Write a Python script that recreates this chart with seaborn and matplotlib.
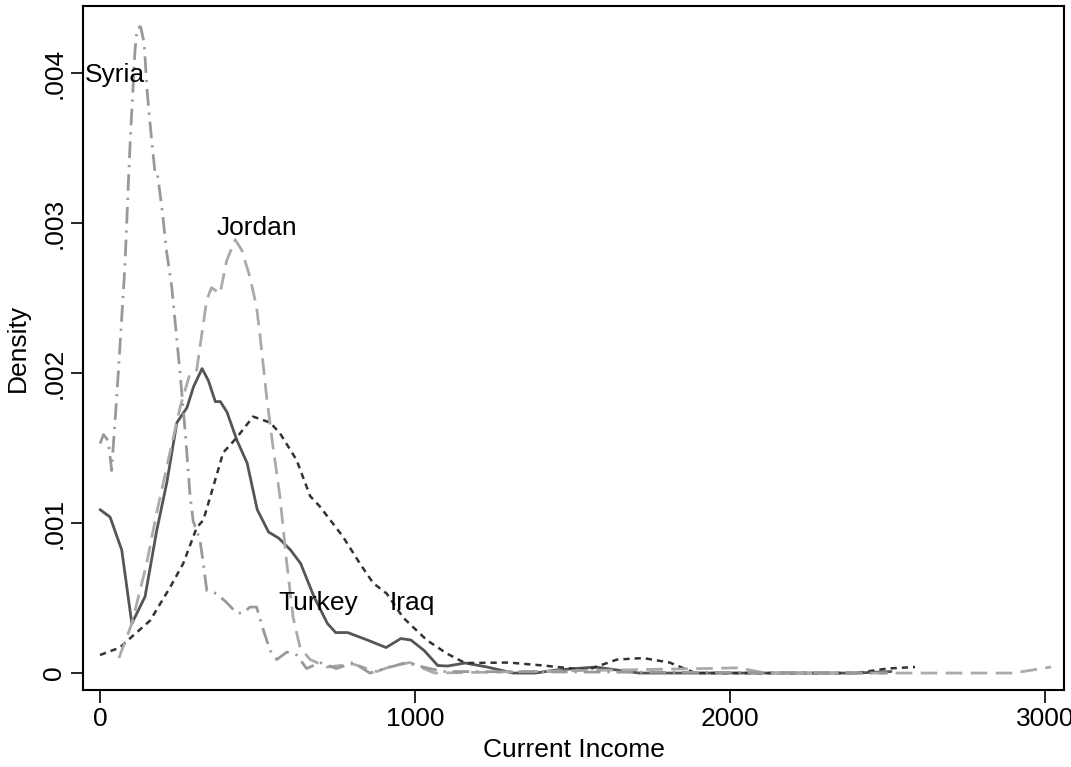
import numpy as np
import pandas as pd
import matplotlib
matplotlib.use('Agg')
import matplotlib.pyplot as plt
import seaborn as sns

# Kernel density curves (x = income, y = density)
turkey_x = [0, 32, 69, 101, 143, 180, 212, 244, 276, 297, 324, 344, 366, 382, 403,
            435, 467, 499, 535, 567, 605, 637, 679, 722, 748, 786, 849, 908, 955,
            987, 1029, 1072, 1104, 1159, 1229, 1311, 1381, 1449, 1573, 1711, 2400, 2511]
turkey_y = [1.09, 1.04, 0.82, 0.33, 0.51, 0.95, 1.27, 1.67, 1.77, 1.91, 2.03, 1.95,
            1.81, 1.81, 1.74, 1.55, 1.40, 1.09, 0.94, 0.90, 0.82, 0.73, 0.51, 0.33,
            0.27, 0.27, 0.22, 0.17, 0.23, 0.22, 0.15, 0.05, 0.047, 0.067, 0.04,
            0.0, 0.0, 0.02, 0.04, 0.0, 0.0, 0.01]

iraq_x = [0, 63, 105, 159, 222, 264, 307, 328, 359, 391, 434, 486, 540, 571, 624,
          667, 698, 771, 825, 867, 910, 962, 1037, 1101, 1159, 1297, 1408, 1546,
          1641, 1724, 1808, 1890, 2400, 2499, 2587]
iraq_y = [0.12, 0.17, 0.25, 0.35, 0.57, 0.73, 0.97, 1.02, 1.24, 1.47, 1.57, 1.71,
          1.67, 1.60, 1.42, 1.18, 1.11, 0.91, 0.73, 0.60, 0.53, 0.37, 0.22, 0.13,
          0.067, 0.07, 0.05, 0.02, 0.09, 0.10, 0.07, 0.0, 0.0, 0.03, 0.04]

jordan_x = [60, 101, 148, 180, 222, 254, 286, 307, 317, 339, 354, 381, 402, 429,
            450, 476, 497, 508, 529, 549, 571, 593, 613, 635, 667, 720, 803, 878,
            931, 984, 1050, 1063, 1917, 2029, 2111, 2899, 3019]
jordan_y = [0.10, 0.33, 0.73, 1.07, 1.47, 1.77, 2.00, 2.02, 2.17, 2.49, 2.57, 2.53,
            2.75, 2.89, 2.82, 2.64, 2.44, 2.25, 1.84, 1.51, 1.18, 0.73, 0.37, 0.17,
            0.09, 0.04, 0.06, 0.01, 0.05, 0.07, 0.01, 0.0, 0.03, 0.035, 0.0, 0.0,
            0.04]

syria_x = [0, 11, 26, 37, 42, 53, 63, 79, 90, 97, 104, 111, 118, 129, 140, 150,
           164, 175, 182, 196, 212, 228, 238, 254, 270, 286, 296, 317, 328, 339,
           370, 402, 434, 455, 476, 497, 518, 540, 561, 593, 624, 656, 698, 751,
           803, 857, 921, 974, 1025, 1089, 2500]
syria_y = [1.53, 1.59, 1.55, 1.35, 1.51, 1.84, 2.17, 2.71, 3.27, 3.60, 3.87, 4.15,
           4.30, 4.31, 4.20, 3.87, 3.55, 3.33, 3.33, 3.11, 2.80, 2.57, 2.35, 2.00,
           1.62, 1.18, 1.01, 0.89, 0.73, 0.55, 0.53, 0.47, 0.40, 0.40, 0.44, 0.44,
           0.29, 0.15, 0.09, 0.14, 0.12, 0.03, 0.07, 0.03, 0.07, 0.0, 0.04, 0.07,
           0.04, 0.01, 0.0]

countries = ['Turkey', 'Iraq', 'Jordan', 'Syria']
label_x = [694, 990, 497, -48]
label_y = [0.000467, 0.000467, 0.00297, 0.00399]
label_ha = ['center', 'center', 'center', 'left']

sns.set_style('white')
plt.rcParams['font.family'] = ['Liberation Sans', 'DejaVu Sans']
plt.rcParams.update({'text.color': 'black', 'axes.labelcolor': 'black',
                     'xtick.color': 'black', 'ytick.color': 'black'})

fig = plt.figure(figsize=(10.71, 7.67), dpi=100)
ax = fig.add_axes([0.0775, 0.1004, 0.916, 0.8916])

series = {
    'Turkey': (turkey_x, turkey_y, '#555555', '-', 2.0),
    'Iraq': (iraq_x, iraq_y, '#333333', (0, (2.5, 2.0)), 1.8),
    'Jordan': (jordan_x, jordan_y, '#aaaaaa', (0, (6, 3)), 2.0),
    'Syria': (syria_x, syria_y, '#999999', (0, (6, 2.5, 0.8, 2.5)), 2.0),
}
for name in countries:
    xs, ys, color, ls, lw = series[name]
    df = pd.DataFrame({'income': xs, 'density': np.array(ys) / 1000})
    sns.lineplot(data=df, x='income', y='density', ax=ax, color=color,
                 linestyle=ls, linewidth=lw, sort=False, estimator=None)

fs = 19
for name, lx, ly, ha in zip(countries, label_x, label_y, label_ha):
    ax.text(lx, ly, name, fontsize=fs, ha=ha, va='center')

ax.set_xlim(-54, 3060)
ax.set_ylim(-0.000113, 0.004447)
ax.set_xticks([0, 1000, 2000, 3000])
ax.set_xticklabels(['0', '1000', '2000', '3000'])
ax.set_yticks([0, 0.001, 0.002, 0.003, 0.004])
ax.set_yticklabels(['0', '.001', '.002', '.003', '.004'], rotation=90, va='center')
ax.tick_params(axis='both', direction='out', length=9, width=1.2, labelsize=fs,
               left=True, bottom=True, pad=3)
ax.set_xlabel('Current Income', fontsize=fs, labelpad=5)
ax.set_ylabel('Density', fontsize=fs, labelpad=9)
for sp in ax.spines.values():
    sp.set_visible(True)
    sp.set_color('black')
    sp.set_linewidth(1.5)

fig.savefig('out.png', dpi=100)
